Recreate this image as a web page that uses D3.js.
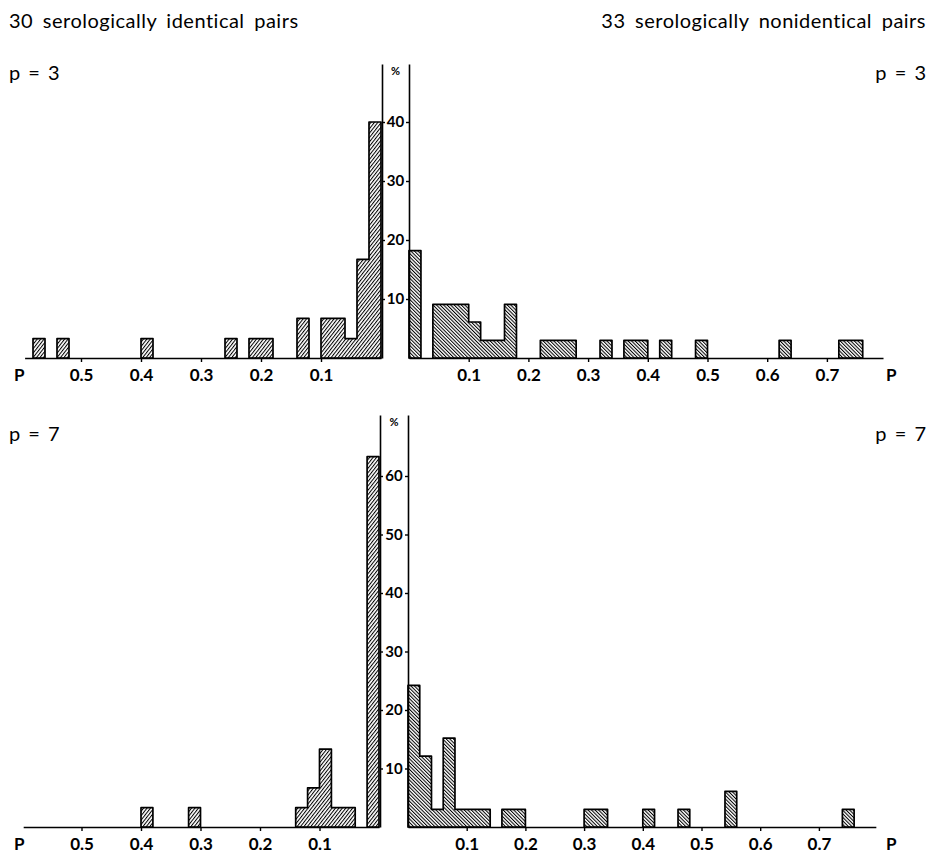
<!DOCTYPE html>
<html>
<head>
<meta charset="utf-8">
<script src="https://cdn.jsdelivr.net/npm/d3@7"></script>
<style>
body { margin: 0; background: #fff; }
svg { display: block; font-family: Lato, "Open Sans", sans-serif; }
</style>
</head>
<body>
<div id="chart"></div>
<script>
// histogram bins are 0.02 wide; starts = lower P edge, pct = % of pairs
const BIN = 0.02;

const identStartP3 = [0.00, 0.02, 0.04, 0.06, 0.08, 0.12, 0.18, 0.20, 0.24, 0.38, 0.52, 0.56];
const identPctP3   = [40.0, 16.7, 3.3, 6.7, 6.7, 6.7, 3.3, 3.3, 3.3, 3.3, 3.3, 3.3];

const nonidStartP3 = [0.00, 0.04, 0.06, 0.08, 0.10, 0.12, 0.14, 0.16, 0.22, 0.24, 0.26, 0.32, 0.36, 0.38, 0.42, 0.48, 0.62, 0.72, 0.74];
const nonidPctP3   = [18.2, 9.1, 9.1, 9.1, 6.1, 3.0, 3.0, 9.1, 3.0, 3.0, 3.0, 3.0, 3.0, 3.0, 3.0, 3.0, 3.0, 3.0, 3.0];

const identStartP7 = [0.00, 0.04, 0.06, 0.08, 0.10, 0.12, 0.30, 0.38];
const identPctP7   = [63.3, 3.3, 3.3, 13.3, 6.7, 3.3, 3.3, 3.3];

const nonidStartP7 = [0.00, 0.02, 0.04, 0.06, 0.08, 0.10, 0.12, 0.16, 0.18, 0.30, 0.32, 0.40, 0.46, 0.54, 0.74];
const nonidPctP7   = [24.2, 12.1, 3.0, 15.2, 3.0, 3.0, 3.0, 3.0, 3.0, 3.0, 3.0, 3.0, 3.0, 6.1, 3.0];

const leftTicks = [0.1, 0.2, 0.3, 0.4, 0.5];
const rightTicks = [0.1, 0.2, 0.3, 0.4, 0.5, 0.6, 0.7];
const pctTicksP3 = [10, 20, 30, 40];
const pctTicksP7 = [10, 20, 30, 40, 50, 60];

const width = 932, height = 853;

// layout of the two panels (pixels)
const panels = [
  { name: "p = 3", nameY: 80, base: 358, top: 64, pxPct: 5.9,
    lx0: 381, lPx: 600, lEnd: 0.594, rx0: 409, rPx: 597, rEnd: 0.794,
    ident: [identStartP3, identPctP3], nonid: [nonidStartP3, nonidPctP3], ticks: pctTicksP3 },
  { name: "p = 7", nameY: 441, base: 827, top: 415, pxPct: 5.85,
    lx0: 379, lPx: 595, lEnd: 0.598, rx0: 408, rPx: 587, rEnd: 0.797,
    ident: [identStartP7, identPctP7], nonid: [nonidStartP7, nonidPctP7], ticks: pctTicksP7 }
];

const svg = d3.select("#chart").append("svg").attr("width", width).attr("height", height);

const defs = svg.append("defs");
function hatch(id, angle, gap) {
  let p = defs.append("pattern").attr("id", id)
    .attr("patternUnits", "userSpaceOnUse")
    .attr("width", gap).attr("height", gap)
    .attr("patternTransform", "rotate(" + angle + ")");
  p.append("rect").attr("width", gap).attr("height", gap).attr("fill", "#fff");
  p.append("line").attr("x1", 0.5).attr("y1", 0).attr("x2", 0.5).attr("y2", gap)
    .attr("stroke", "#000").attr("stroke-width", 1.05);
}
hatch("hatchL", 38, 2.7);
hatch("hatchR", -45, 2.5);

svg.append("text").attr("x", 9).attr("y", 28).attr("font-size", 20)
  .attr("letter-spacing", 0.5).attr("word-spacing", 4).text("30 serologically identical pairs");
svg.append("text").attr("x", 926).attr("y", 28).attr("font-size", 20)
  .attr("text-anchor", "end").attr("letter-spacing", 0.5).attr("word-spacing", 4)
  .text("33 serologically nonidentical pairs");

// split bins into runs of touching bins so the outline is one step shape
function runs(starts, pcts) {
  let out = [], cur = null;
  starts.forEach(function (s, i) {
    if (cur && Math.abs(cur[cur.length - 1].s + BIN - s) < 1e-6) {
      cur.push({ s: s, v: pcts[i] });
    } else {
      cur = [{ s: s, v: pcts[i] }];
      out.push(cur);
    }
  });
  return out;
}

function drawHist(g, x, y, starts, pcts, fillId) {
  let line = d3.line().x(d => x(d[0])).y(d => y(d[1]));
  runs(starts, pcts).forEach(function (r) {
    let pts = [[r[0].s, 0]];
    r.forEach(function (b) { pts.push([b.s, b.v]); pts.push([b.s + BIN, b.v]); });
    pts.push([r[r.length - 1].s + BIN, 0]);
    g.append("path").attr("d", line(pts) + "Z")
      .attr("fill", "url(#" + fillId + ")")
      .attr("stroke", "#000").attr("stroke-width", 1.7)
      .attr("stroke-linejoin", "round");
  });
}

panels.forEach(function (pn) {
  let g = svg.append("g");
  let y = d3.scaleLinear().domain([0, (pn.base - pn.top) / pn.pxPct]).range([pn.base, pn.top]);
  let xL = d3.scaleLinear().domain([0, pn.lEnd]).range([pn.lx0, pn.lx0 - pn.lEnd * pn.lPx]);
  let xR = d3.scaleLinear().domain([0, pn.rEnd]).range([pn.rx0, pn.rx0 + pn.rEnd * pn.rPx]);

  g.append("text").attr("x", 9).attr("y", pn.nameY).attr("font-size", 20)
    .attr("word-spacing", 3).text(pn.name);
  g.append("text").attr("x", 926).attr("y", pn.nameY).attr("font-size", 20)
    .attr("text-anchor", "end").attr("word-spacing", 3).text(pn.name);

  drawHist(g, xL, y, pn.ident[0], pn.ident[1], "hatchL");
  drawHist(g, xR, y, pn.nonid[0], pn.nonid[1], "hatchR");

  // P axes along the base
  let axL = g.append("g").attr("transform", "translate(0," + pn.base + ")")
    .call(d3.axisBottom(xL).tickValues(leftTicks).tickFormat(d3.format(".1f"))
      .tickSize(4).tickSizeOuter(0).tickPadding(7));
  let axR = g.append("g").attr("transform", "translate(0," + pn.base + ")")
    .call(d3.axisBottom(xR).tickValues(rightTicks).tickFormat(d3.format(".1f"))
      .tickSize(4).tickSizeOuter(0).tickPadding(7));
  [axL, axR].forEach(function (a) {
    a.select(".domain").attr("stroke-width", 1.6);
    a.selectAll(".tick line").attr("stroke-width", 1.4);
    a.selectAll(".tick text").attr("font-size", 17).attr("font-weight", "bold")
      .attr("font-family", "Lato, sans-serif").attr("fill", "#000");
  });
  g.append("text").attr("x", 14).attr("y", pn.base + 23).attr("font-size", 17)
    .attr("font-weight", "bold").text("P");
  g.append("text").attr("x", 886).attr("y", pn.base + 23).attr("font-size", 17)
    .attr("font-weight", "bold").text("P");

  // the % scale between the two zero lines
  let mid = (pn.lx0 + pn.rx0) / 2 + 0.5;
  let axY = g.append("g").attr("transform", "translate(" + (pn.lx0 + 1) + ",0)")
    .call(d3.axisRight(y).tickValues(pn.ticks).tickSize(3).tickSizeOuter(0).tickPadding(0));
  axY.selectAll(".tick text").attr("x", mid - pn.lx0 - 1).attr("text-anchor", "middle")
    .attr("font-size", 15).attr("font-weight", "bold").attr("font-family", "Lato, sans-serif")
    .attr("fill", "#000");
  let axY2 = g.append("g").attr("transform", "translate(" + pn.rx0 + ",0)")
    .call(d3.axisLeft(y).tickValues(pn.ticks).tickSize(3).tickSizeOuter(0).tickFormat(""));
  [axY, axY2].forEach(function (a) {
    a.select(".domain").attr("stroke-width", 1.6);
    a.selectAll(".tick line").attr("stroke-width", 1.4);
  });
  g.append("text").attr("x", mid).attr("y", pn.top + 11).attr("text-anchor", "middle")
    .attr("font-size", 11).attr("font-weight", "bold").text("%");
});
</script>
</body>
</html>
